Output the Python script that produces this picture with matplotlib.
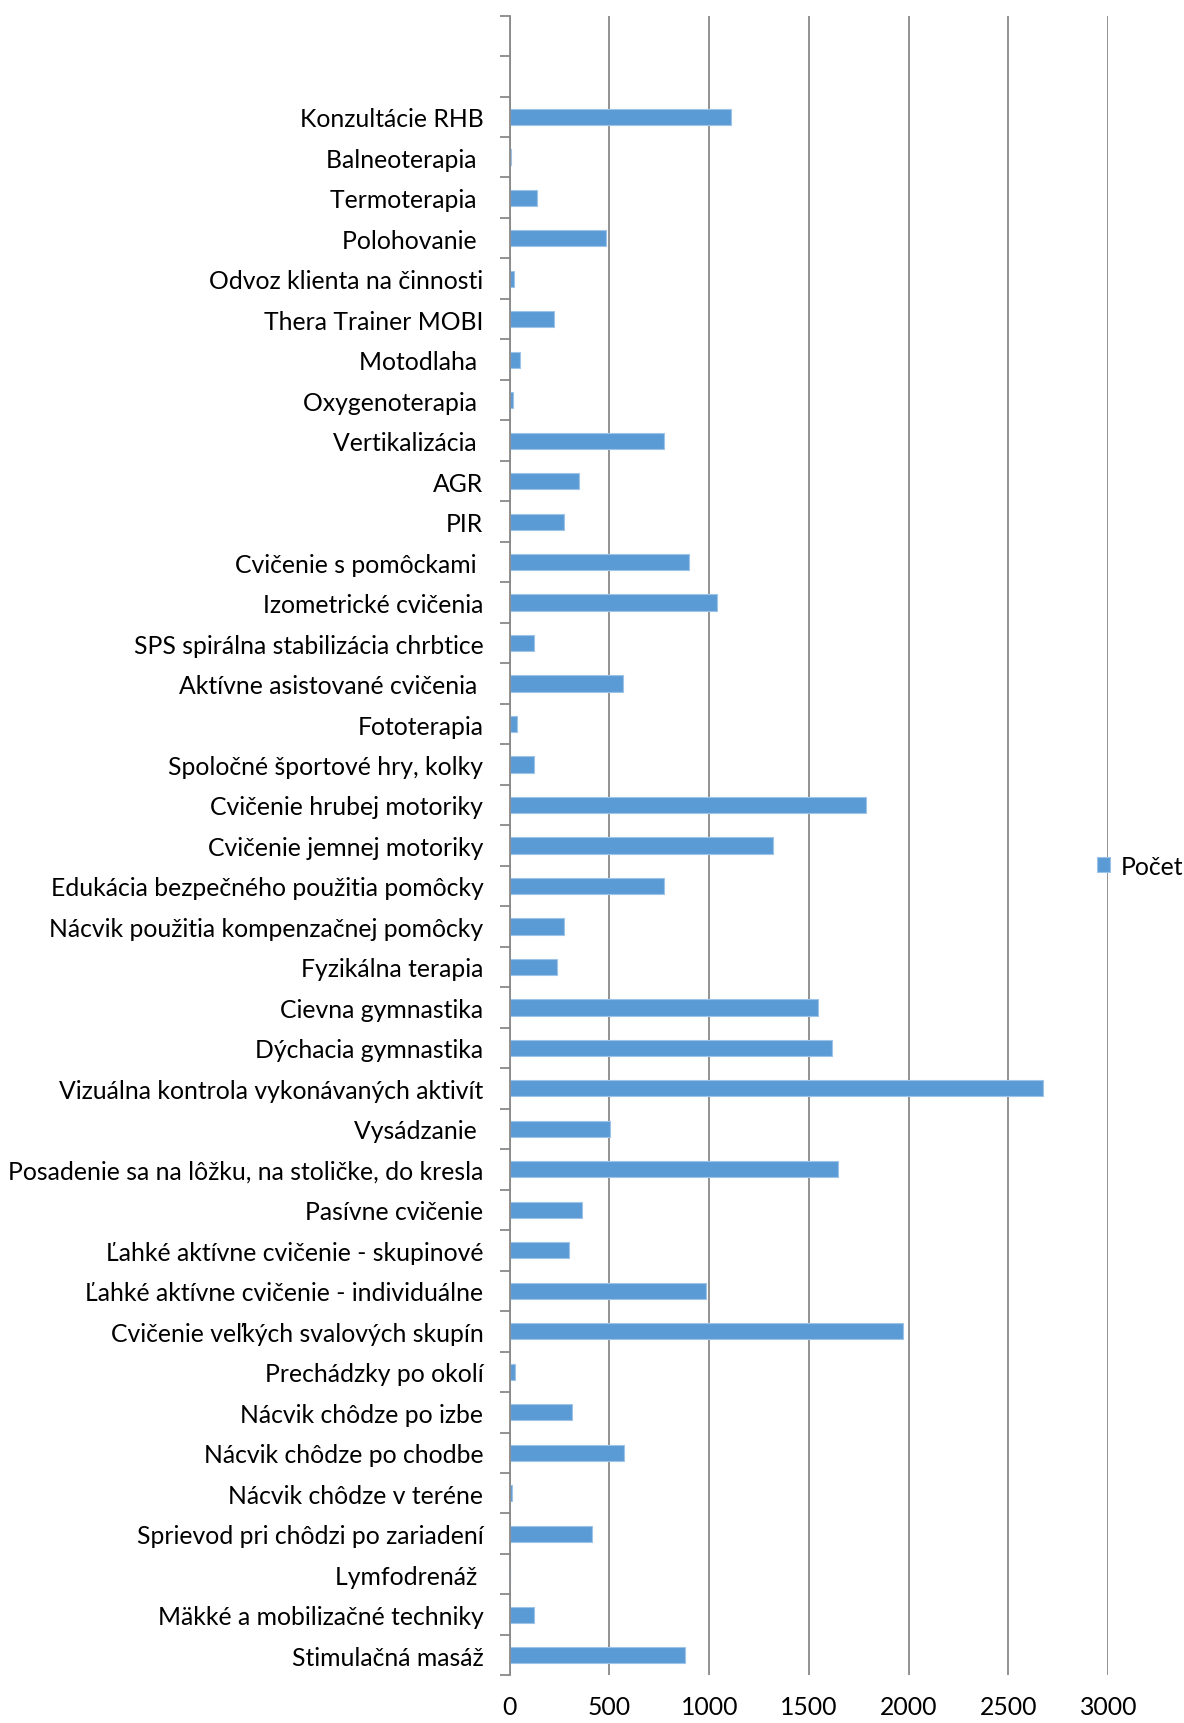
import matplotlib
matplotlib.use("Agg")
import matplotlib.pyplot as plt
import numpy as np

categories = [
    "Stimulačná masáž",
    "Mäkké a mobilizačné techniky",
    "Lymfodrenáž ",
    "Sprievod pri chôdzi po zariadení",
    "Nácvik chôdze v teréne",
    "Nácvik chôdze po chodbe",
    "Nácvik chôdze po izbe",
    "Prechádzky po okolí",
    "Cvičenie veľkých svalových skupín",
    "Ľahké aktívne cvičenie - individuálne",
    "Ľahké aktívne cvičenie - skupinové",
    "Pasívne cvičenie",
    "Posadenie sa na lôžku, na stoličke, do kresla",
    "Vysádzanie ",
    "Vizuálna kontrola vykonávaných aktivít",
    "Dýchacia gymnastika",
    "Cievna gymnastika",
    "Fyzikálna terapia",
    "Nácvik použitia kompenzačnej pomôcky",
    "Edukácia bezpečného použitia pomôcky",
    "Cvičenie jemnej motoriky",
    "Cvičenie hrubej motoriky",
    "Spoločné športové hry, kolky",
    "Fototerapia",
    "Aktívne asistované cvičenia ",
    "SPS spirálna stabilizácia chrbtice",
    "Izometrické cvičenia",
    "Cvičenie s pomôckami ",
    "PIR",
    "AGR",
    "Vertikalizácia ",
    "Oxygenoterapia ",
    "Motodlaha ",
    "Thera Trainer MOBI",
    "Odvoz klienta na činnosti",
    "Polohovanie ",
    "Termoterapia ",
    "Balneoterapia ",
    "Konzultácie RHB",
]
values = [
    877, 121, 3, 410, 10, 575, 313, 28, 1969, 982, 298, 364, 1644, 502, 2675,
    1616, 1544, 237, 270, 772, 1318, 1787, 121, 39, 568, 121, 1037, 899, 270,
    347, 772, 15, 50, 221, 21, 481, 138, 5, 1110,
]
series_name = "Počet"
x_ticks = [0, 500, 1000, 1500, 2000, 2500, 3000]
empty_slots_top = 2

plt.rcParams['font.family'] = ['Lato', 'DejaVu Sans']

fig = plt.figure(figsize=(11.84, 17.24), dpi=100)
ax = fig.add_axes([0.4305, 0.0276, 0.5055, 0.9628])

n = len(categories)
y = np.arange(n)
bar_color = "#5B9BD5"
ax.barh(y, values, height=0.4, color=bar_color, edgecolor="#9DC3E6",
        linewidth=0.8, zorder=3, label=series_name)

fs = 17.8
ax.set_xlim(0, 3000)
ax.set_ylim(-0.5, n - 0.5 + empty_slots_top)
ax.set_xticks(x_ticks)
ax.set_xticklabels([str(t) for t in x_ticks], fontsize=fs)
ax.set_yticks(y)
ax.set_yticklabels(categories, fontsize=fs)
ax.set_yticks(np.arange(-0.5, n + empty_slots_top, 1.0), minor=True)
ax.tick_params(axis='y', which='major', length=0, pad=19)
ax.tick_params(axis='y', which='minor', length=7, width=1.3, color="#898989", direction='out')
ax.tick_params(axis='x', length=0, pad=14)

ax.grid(axis='x', color="#898989", linewidth=1.3, zorder=0)
for s in ['top', 'right', 'bottom']:
    ax.spines[s].set_visible(False)
ax.spines['left'].set_color("#898989")
ax.spines['left'].set_linewidth(1.3)
ax.spines['left'].set_zorder(4)

leg = fig.legend(loc='center left', bbox_to_anchor=(0.918, 0.497), frameon=False,
                 fontsize=fs, handlelength=0.55, handleheight=0.55, handletextpad=0.4,
                 borderaxespad=0)

fig.savefig("out.png", dpi=100)
